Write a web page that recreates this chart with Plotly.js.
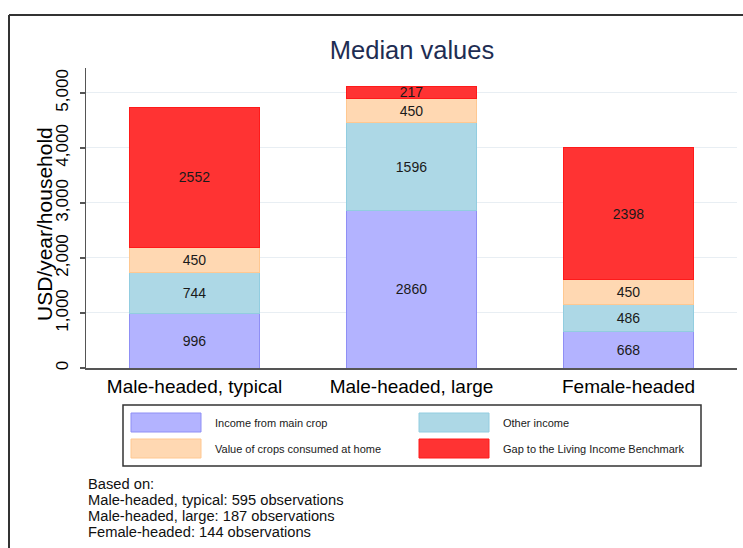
<!DOCTYPE html>
<html>
<head>
<meta charset="utf-8">
<script src="https://cdn.plot.ly/plotly-3.0.1.min.js"></script>
<style>
html,body{margin:0;padding:0;background:#fff;}
#chart{width:743px;height:548px;}
</style>
</head>
<body>
<div id="chart"></div>
<script>
// ---- data ----
var categories = ['Male-headed, typical', 'Male-headed, large', 'Female-headed'];
var mainCrop = [996, 2860, 668];
var otherIncome = [744, 1596, 486];
var consumedAtHome = [450, 450, 450];
var gapToBenchmark = [2552, 217, 2398];
var seriesNames = ['Income from main crop', 'Other income', 'Value of crops consumed at home', 'Gap to the Living Income Benchmark'];
var yTickVals = [0, 1000, 2000, 3000, 4000, 5000];
var yTickText = ['0', '1,000', '2,000', '3,000', '4,000', '5,000'];
var yTitle = 'USD/year/household';
var noteLines = ['Based on:', 'Male-headed, typical: 595 observations', 'Male-headed, large: 187 observations', 'Female-headed: 144 observations'];

// ---- styling ----
var FONT = 'Liberation Sans, Arial, sans-serif';
var fills = ['#b3b3ff', '#add8e6', '#ffd8b2', '#ff3333'];
var borders = ['#8f8ff5', '#92cde0', '#ffc891', '#ff1a1a'];

var W = 743, H = 548;
var M = {l: 86, r: 6, t: 68, b: 180};
var PW = W - M.l - M.r, PH = H - M.t - M.b;
function px(x) { return (x - M.l) / PW; }
function py(y) { return (H - M.b - y) / PH; }

var allSeries = [mainCrop, otherIncome, consumedAtHome, gapToBenchmark];
var traces = allSeries.map(function (vals, i) {
  return {
    type: 'bar',
    name: seriesNames[i],
    x: categories,
    y: vals,
    marker: {color: fills[i], line: {color: borders[i], width: 1}},
    texttemplate: '%{y}',
    textposition: 'inside',
    insidetextanchor: 'middle',
    textangle: 0,
    textfont: {family: FONT, size: 14, color: '#1a1a1a'},
    hoverinfo: 'skip',
    showlegend: false
  };
});

var shapes = [];
var annotations = [];

// outer frame (graph region border, cut off at right and bottom)
shapes.push({type: 'line', xref: 'paper', yref: 'paper', x0: px(9), x1: px(760), y0: py(15), y1: py(15), line: {color: '#333', width: 2}});
shapes.push({type: 'line', xref: 'paper', yref: 'paper', x0: px(9), x1: px(9), y0: py(15), y1: py(560), line: {color: '#333', width: 2}});

// y axis title
annotations.push({xref: 'paper', yref: 'paper', x: px(44), y: py(224), xanchor: 'center', yanchor: 'middle',
  text: yTitle, textangle: -90, showarrow: false, font: {family: FONT, size: 21, color: '#000'}});

// legend box
shapes.push({type: 'rect', xref: 'paper', yref: 'paper', x0: px(123), x1: px(701), y0: py(405), y1: py(466), line: {color: '#333', width: 1.5}, fillcolor: 'rgba(0,0,0,0)'});
var legPos = [
  {sx: 131, sy: 413, tx: 213},
  {sx: 419, sy: 413, tx: 501},
  {sx: 131, sy: 439, tx: 213},
  {sx: 419, sy: 439, tx: 501}
];
legPos.forEach(function (p, i) {
  shapes.push({type: 'rect', xref: 'paper', yref: 'paper', x0: px(p.sx), x1: px(p.sx + 70), y0: py(p.sy), y1: py(p.sy + 19),
    fillcolor: fills[i], line: {color: borders[i], width: 1}});
  annotations.push({xref: 'paper', yref: 'paper', x: px(p.tx), y: py(p.sy + 9.5), xanchor: 'left', yanchor: 'middle',
    text: seriesNames[i], showarrow: false, font: {family: FONT, size: 11, color: '#1a1a1a'}});
});

// note lines
noteLines.forEach(function (t, i) {
  annotations.push({xref: 'paper', yref: 'paper', x: px(87), y: py(484 + i * 16), xanchor: 'left', yanchor: 'middle',
    text: t, showarrow: false, borderpad: 0, font: {family: FONT, size: 14.7, color: '#111'}});
});

var layout = {
  width: W, height: H,
  margin: M,
  paper_bgcolor: '#fff', plot_bgcolor: '#fff',
  barmode: 'stack',
  bargap: 0.4,
  showlegend: false,
  font: {family: FONT, color: '#000'},
  uniformtext: {mode: 'show', minsize: 14},
  title: {text: 'Median values', font: {family: FONT, size: 25.5, color: '#1e2d53'}, x: px(412), xref: 'paper', xanchor: 'center', y: 1 - 50 / H, yref: 'container', yanchor: 'middle'},
  xaxis: {
    type: 'category', range: [-0.5, 2.5],
    showline: true, linecolor: '#555', linewidth: 1.5,
    ticks: '', showgrid: false, zeroline: false,
    tickfont: {family: FONT, size: 19, color: '#000'},
    ticklabelstandoff: 1,
    fixedrange: true
  },
  yaxis: {
    range: [0, 5454], autorange: false,
    tickvals: yTickVals, ticktext: yTickText,
    tickangle: -90,
    ticks: 'outside', ticklen: 5, tickcolor: '#555', tickwidth: 1.5,
    ticklabelstandoff: 5,
    showline: true, linecolor: '#555', linewidth: 1.5,
    showgrid: true, gridcolor: '#e8eef3', gridwidth: 1,
    zeroline: false,
    tickfont: {family: FONT, size: 17, color: '#000'},
    fixedrange: true
  },
  shapes: shapes,
  annotations: annotations
};

Plotly.newPlot('chart', traces, layout, {displayModeBar: false, staticPlot: true});
</script>
</body>
</html>
